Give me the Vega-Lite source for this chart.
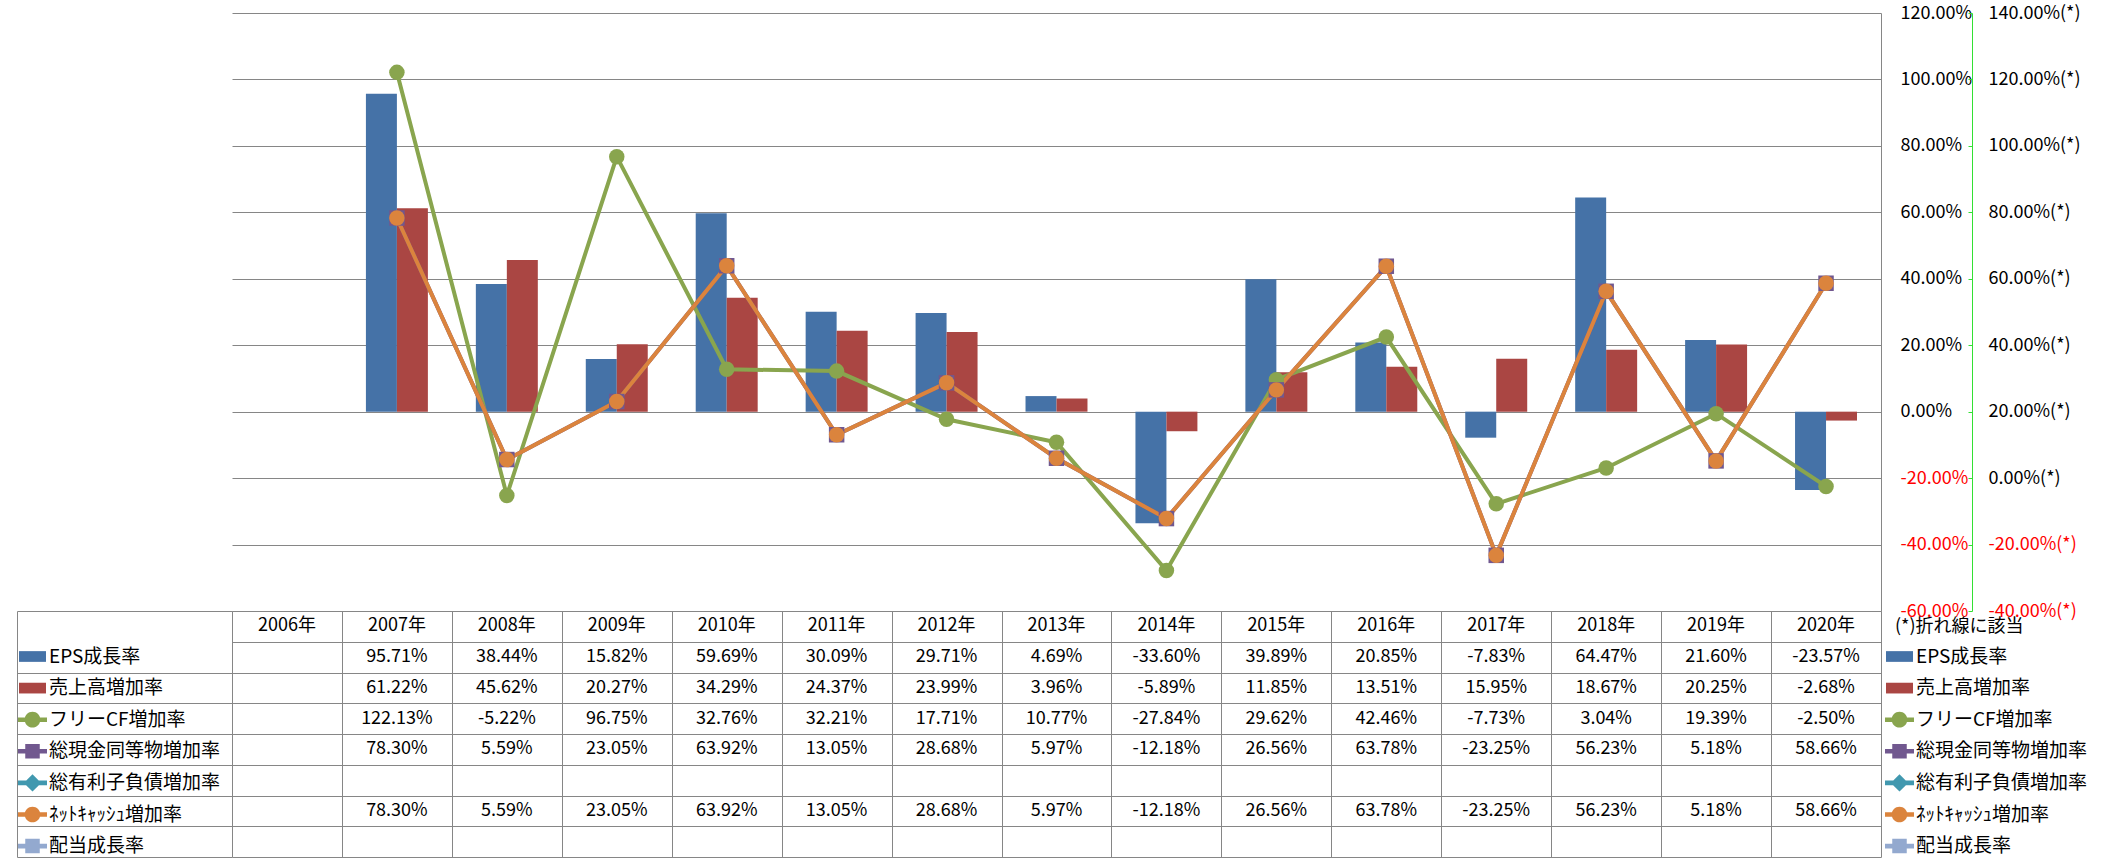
{
  "$schema": "https://vega.github.io/schema/vega-lite/v6.json",
  "autosize": {"type": "none"},
  "padding": {"left": 232, "top": 13, "right": 1869, "bottom": 845},
  "background": "white",
  "config": {
    "view": {"stroke": null},
    "font": "Noto Sans CJK JP",
    "locale": {"number": {"decimal": ".", "thousands": ",", "grouping": [3], "currency": ["$", ""], "minus": "-", "percent": "%"}},
    "axis": {"labelFont": "Noto Sans CJK JP", "labelFontSize": 18},
    "legend": {"labelFont": "Noto Sans CJK JP", "titleFont": "Noto Sans CJK JP"}
  },
  "datasets": {
    "rates": [
      {"year": "2006年", "series": "EPS成長率", "value": null},
      {"year": "2007年", "series": "EPS成長率", "value": 0.9571},
      {"year": "2008年", "series": "EPS成長率", "value": 0.3844},
      {"year": "2009年", "series": "EPS成長率", "value": 0.1582},
      {"year": "2010年", "series": "EPS成長率", "value": 0.5969},
      {"year": "2011年", "series": "EPS成長率", "value": 0.3009},
      {"year": "2012年", "series": "EPS成長率", "value": 0.2971},
      {"year": "2013年", "series": "EPS成長率", "value": 0.0469},
      {"year": "2014年", "series": "EPS成長率", "value": -0.3360},
      {"year": "2015年", "series": "EPS成長率", "value": 0.3989},
      {"year": "2016年", "series": "EPS成長率", "value": 0.2085},
      {"year": "2017年", "series": "EPS成長率", "value": -0.0783},
      {"year": "2018年", "series": "EPS成長率", "value": 0.6447},
      {"year": "2019年", "series": "EPS成長率", "value": 0.2160},
      {"year": "2020年", "series": "EPS成長率", "value": -0.2357},
      {"year": "2007年", "series": "売上高増加率", "value": 0.6122},
      {"year": "2008年", "series": "売上高増加率", "value": 0.4562},
      {"year": "2009年", "series": "売上高増加率", "value": 0.2027},
      {"year": "2010年", "series": "売上高増加率", "value": 0.3429},
      {"year": "2011年", "series": "売上高増加率", "value": 0.2437},
      {"year": "2012年", "series": "売上高増加率", "value": 0.2399},
      {"year": "2013年", "series": "売上高増加率", "value": 0.0396},
      {"year": "2014年", "series": "売上高増加率", "value": -0.0589},
      {"year": "2015年", "series": "売上高増加率", "value": 0.1185},
      {"year": "2016年", "series": "売上高増加率", "value": 0.1351},
      {"year": "2017年", "series": "売上高増加率", "value": 0.1595},
      {"year": "2018年", "series": "売上高増加率", "value": 0.1867},
      {"year": "2019年", "series": "売上高増加率", "value": 0.2025},
      {"year": "2020年", "series": "売上高増加率", "value": -0.0268},
      {"year": "2007年", "series": "フリーCF増加率", "value": 1.2213},
      {"year": "2008年", "series": "フリーCF増加率", "value": -0.0522},
      {"year": "2009年", "series": "フリーCF増加率", "value": 0.9675},
      {"year": "2010年", "series": "フリーCF増加率", "value": 0.3276},
      {"year": "2011年", "series": "フリーCF増加率", "value": 0.3221},
      {"year": "2012年", "series": "フリーCF増加率", "value": 0.1771},
      {"year": "2013年", "series": "フリーCF増加率", "value": 0.1077},
      {"year": "2014年", "series": "フリーCF増加率", "value": -0.2784},
      {"year": "2015年", "series": "フリーCF増加率", "value": 0.2962},
      {"year": "2016年", "series": "フリーCF増加率", "value": 0.4246},
      {"year": "2017年", "series": "フリーCF増加率", "value": -0.0773},
      {"year": "2018年", "series": "フリーCF増加率", "value": 0.0304},
      {"year": "2019年", "series": "フリーCF増加率", "value": 0.1939},
      {"year": "2020年", "series": "フリーCF増加率", "value": -0.0250},
      {"year": "2007年", "series": "総現金同等物増加率", "value": 0.7830},
      {"year": "2008年", "series": "総現金同等物増加率", "value": 0.0559},
      {"year": "2009年", "series": "総現金同等物増加率", "value": 0.2305},
      {"year": "2010年", "series": "総現金同等物増加率", "value": 0.6392},
      {"year": "2011年", "series": "総現金同等物増加率", "value": 0.1305},
      {"year": "2012年", "series": "総現金同等物増加率", "value": 0.2868},
      {"year": "2013年", "series": "総現金同等物増加率", "value": 0.0597},
      {"year": "2014年", "series": "総現金同等物増加率", "value": -0.1218},
      {"year": "2015年", "series": "総現金同等物増加率", "value": 0.2656},
      {"year": "2016年", "series": "総現金同等物増加率", "value": 0.6378},
      {"year": "2017年", "series": "総現金同等物増加率", "value": -0.2325},
      {"year": "2018年", "series": "総現金同等物増加率", "value": 0.5623},
      {"year": "2019年", "series": "総現金同等物増加率", "value": 0.0518},
      {"year": "2020年", "series": "総現金同等物増加率", "value": 0.5866},
      {"year": "2007年", "series": "ﾈｯﾄｷｬｯｼｭ増加率", "value": 0.7830},
      {"year": "2008年", "series": "ﾈｯﾄｷｬｯｼｭ増加率", "value": 0.0559},
      {"year": "2009年", "series": "ﾈｯﾄｷｬｯｼｭ増加率", "value": 0.2305},
      {"year": "2010年", "series": "ﾈｯﾄｷｬｯｼｭ増加率", "value": 0.6392},
      {"year": "2011年", "series": "ﾈｯﾄｷｬｯｼｭ増加率", "value": 0.1305},
      {"year": "2012年", "series": "ﾈｯﾄｷｬｯｼｭ増加率", "value": 0.2868},
      {"year": "2013年", "series": "ﾈｯﾄｷｬｯｼｭ増加率", "value": 0.0597},
      {"year": "2014年", "series": "ﾈｯﾄｷｬｯｼｭ増加率", "value": -0.1218},
      {"year": "2015年", "series": "ﾈｯﾄｷｬｯｼｭ増加率", "value": 0.2656},
      {"year": "2016年", "series": "ﾈｯﾄｷｬｯｼｭ増加率", "value": 0.6378},
      {"year": "2017年", "series": "ﾈｯﾄｷｬｯｼｭ増加率", "value": -0.2325},
      {"year": "2018年", "series": "ﾈｯﾄｷｬｯｼｭ増加率", "value": 0.5623},
      {"year": "2019年", "series": "ﾈｯﾄｷｬｯｼｭ増加率", "value": 0.0518},
      {"year": "2020年", "series": "ﾈｯﾄｷｬｯｼｭ増加率", "value": 0.5866}
    ]
  },
  "spacing": 0,
  "bounds": "flush",
  "resolve": {"legend": {"color": "independent"}},
  "vconcat": [
    {
      "width": 1649,
      "height": 598,
      "data": {"name": "rates"},
      "resolve": {"scale": {"y": "independent"}},
      "layer": [
        {
          "transform": [
            {"filter": {"field": "series", "oneOf": ["EPS成長率", "売上高増加率"]}},
            {"filter": "isValid(datum.value)"}
          ],
          "mark": {"type": "bar"},
          "encoding": {
            "x": {"field": "year", "type": "nominal", "scale": {"domain": ["2006年","2007年","2008年","2009年","2010年","2011年","2012年","2013年","2014年","2015年","2016年","2017年","2018年","2019年","2020年"], "paddingInner": 0, "paddingOuter": 0}, "axis": null},
            "xOffset": {"field": "series", "type": "nominal", "scale": {"domain": ["EPS成長率", "売上高増加率"], "paddingInner": 0, "paddingOuter": 0.774}},
            "y": {
              "field": "value", "type": "quantitative",
              "scale": {"domain": [-0.6, 1.2], "nice": false, "zero": false},
              "axis": {
                "orient": "right", "values": [-0.6, -0.4, -0.2, 0, 0.2, 0.4, 0.6, 0.8, 1.0, 1.2],
                "format": ".2%", "grid": true, "gridColor": "#868686", "gridWidth": 1,
                "domain": true, "domainColor": "#868686", "ticks": false, "labelPadding": 19,
                "labelColor": {"condition": {"test": "datum.value < 0", "value": "#ff0000"}, "value": "#000000"},
                "labelFontSize": 18, "title": null
              }
            },
            "color": {
              "field": "series", "type": "nominal",
              "scale": {
                "domain": ["EPS成長率", "売上高増加率", "フリーCF増加率", "総現金同等物増加率", "総有利子負債増加率", "ﾈｯﾄｷｬｯｼｭ増加率", "配当成長率"],
                "range": ["#4572A7", "#AA4643", "#89A54E", "#71588F", "#4198AF", "#DB843D", "#93A9CF"]
              },
              "legend": {
                "orient": "none", "legendX": 1653, "legendY": 605,
                "title": "(*)折れ線に該当", "titleFontSize": 18, "titleFontWeight": "normal", "titleColor": "#000000", "titlePadding": 6,
                "symbolSize": 841, "labelFontSize": 19, "labelColor": "#000000", "labelOffset": 2, "rowPadding": 6.6, "padding": 0, "labelLimit": 300,
                "encode": {
                  "title": {"update": {"dx": {"value": 10}}},
                  "symbols": {"update": {
                    "fill": {"scale": "color", "field": "value"},
                    "stroke": {"value": "transparent"},
                    "strokeWidth": {"value": 0},
                    "opacity": {"value": 1},
                    "fillOpacity": {"value": 1},
                    "shape": {"signal": "datum.value === 'EPS成長率' || datum.value === '売上高増加率' ? 'M-0.93,-0.37H0.93V0.37H-0.93Z' : (datum.value === '総現金同等物増加率' || datum.value === '配当成長率') ? 'M-1,-0.16H1V0.16H-1Z M-0.5,-0.5H0.5V0.5H-0.5Z' : datum.value === '総有利子負債増加率' ? 'M-1,-0.16H1V0.16H-1Z M0,-0.6L0.6,0L0,0.6L-0.6,0Z' : 'M-1,-0.16H1V0.16H-1Z M0.54,0A0.54,0.54 0 1,1 -0.54,0A0.54,0.54 0 1,1 0.54,0Z'"}
                  }}
                }
              }
            }
          }
        },
        {
          "transform": [
            {"filter": {"field": "series", "oneOf": ["フリーCF増加率", "総現金同等物増加率", "ﾈｯﾄｷｬｯｼｭ増加率"]}}
          ],
          "encoding": {
            "x": {"field": "year", "type": "nominal"},
            "y": {
              "field": "value", "type": "quantitative",
              "scale": {"domain": [-0.4, 1.4], "nice": false, "zero": false},
              "axis": {
                "orient": "right", "offset": 91,
                "values": [-0.4, -0.2, 0, 0.2, 0.4, 0.6, 0.8, 1.0, 1.2, 1.4],
                "labelExpr": "format(datum.value, '.2%') + '(*)'",
                "grid": false, "domain": true, "domainColor": "#33e033", "domainWidth": 1,
                "ticks": true, "tickSize": -4, "tickColor": "#33e033", "tickWidth": 1, "labelPadding": 20,
                "labelColor": {"condition": {"test": "datum.value < 0", "value": "#ff0000"}, "value": "#000000"},
                "labelFontSize": 18, "title": null
              }
            },
            "color": {"field": "series", "type": "nominal"}
          },
          "layer": [
            {"mark": {"type": "line", "strokeWidth": 4}},
            {
              "mark": {"type": "point", "filled": true, "size": 240, "opacity": 1},
              "encoding": {
                "shape": {
                  "field": "series", "type": "nominal",
                  "scale": {"domain": ["フリーCF増加率", "総現金同等物増加率", "ﾈｯﾄｷｬｯｼｭ増加率"], "range": ["circle", "square", "circle"]},
                  "legend": null
                }
              }
            }
          ]
        }
      ]
    },
    {
      "width": 1649,
      "height": 246,
      "data": {"name": "rates"},
      "encoding": {
        "x": {
          "field": "year", "type": "nominal",
          "scale": {"domain": ["2006年","2007年","2008年","2009年","2010年","2011年","2012年","2013年","2014年","2015年","2016年","2017年","2018年","2019年","2020年"], "paddingInner": 0, "paddingOuter": 0},
          "axis": {"orient": "top", "grid": true, "gridColor": "#868686", "tickBand": "extent", "labels": false, "ticks": false, "domain": false, "title": null}
        }
      },
      "layer": [
        {
          "transform": [{"filter": "datum.series === 'EPS成長率'"}],
          "mark": {"type": "text", "fontSize": 18, "color": "#000000"},
          "encoding": {
            "y": {
              "datum": "header", "type": "nominal",
              "scale": {"type": "band", "domain": ["header", "EPS成長率", "売上高増加率", "フリーCF増加率", "総現金同等物増加率", "総有利子負債増加率", "ﾈｯﾄｷｬｯｼｭ増加率", "配当成長率"], "paddingInner": 0, "paddingOuter": 0},
              "axis": {
                "orient": "left", "offset": 215, "grid": true, "gridColor": "#868686", "tickBand": "extent",
                "labels": false, "ticks": true, "tickSize": -215,
                "tickColor": {"condition": {"test": "datum.value === 'header'", "value": "transparent"}, "value": "#868686"},
                "domain": true, "domainColor": "#868686", "title": null
              }
            },
            "text": {"field": "year"}
          }
        },
        {
          "transform": [{"filter": "isValid(datum.value)"}],
          "mark": {"type": "text", "fontSize": 18, "fill": "#000000"},
          "encoding": {
            "y": {"field": "series", "type": "nominal"},
            "text": {"field": "value", "type": "quantitative", "format": ".2%"},
            "color": {
              "field": "series", "type": "nominal",
              "legend": {
                "orient": "none", "legendX": -214, "legendY": 31,
                "title": null,
                "symbolSize": 841, "labelFontSize": 19, "labelColor": "#000000", "labelOffset": 2, "rowPadding": 6.6, "padding": 0, "labelLimit": 300,
                "encode": {
                  "symbols": {"update": {
                    "fill": {"scale": "color", "field": "value"},
                    "stroke": {"value": "transparent"},
                    "strokeWidth": {"value": 0},
                    "opacity": {"value": 1},
                    "fillOpacity": {"value": 1},
                    "shape": {"signal": "datum.value === 'EPS成長率' || datum.value === '売上高増加率' ? 'M-0.93,-0.37H0.93V0.37H-0.93Z' : (datum.value === '総現金同等物増加率' || datum.value === '配当成長率') ? 'M-1,-0.16H1V0.16H-1Z M-0.5,-0.5H0.5V0.5H-0.5Z' : datum.value === '総有利子負債増加率' ? 'M-1,-0.16H1V0.16H-1Z M0,-0.6L0.6,0L0,0.6L-0.6,0Z' : 'M-1,-0.16H1V0.16H-1Z M0.54,0A0.54,0.54 0 1,1 -0.54,0A0.54,0.54 0 1,1 0.54,0Z'"}
                  }}
                }
              }
            }
          }
        }
      ]
    }
  ]
}
